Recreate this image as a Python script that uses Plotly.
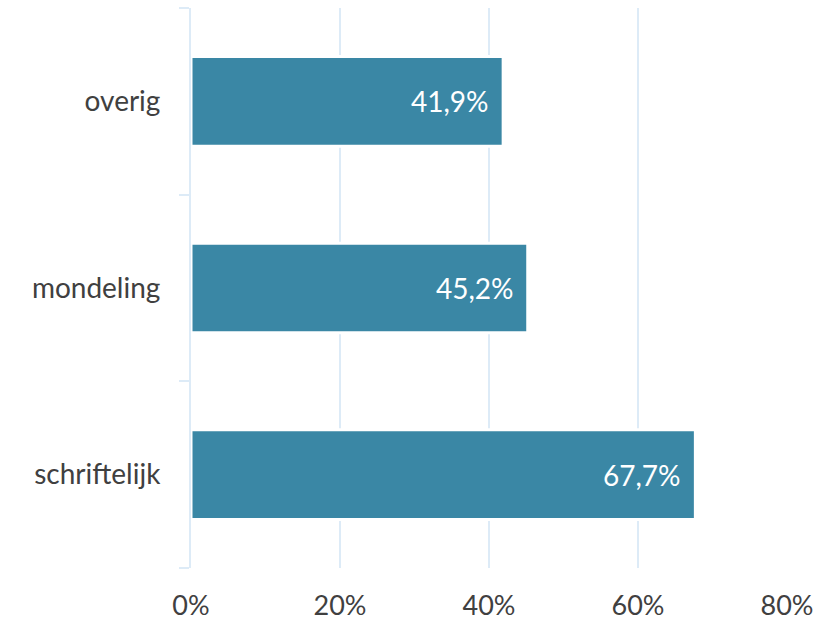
import plotly.graph_objects as go

categories = ["schriftelijk", "mondeling", "overig"]
values = [67.7, 45.2, 41.9]
tick_values = [0, 20, 40, 60, 80]
tick_labels = ["0%", "20%", "40%", "60%", "80%"]

bar_color = "#3A87A5"
grid_color = "#DDEBF7"
text_color = "#404040"
font_family = "Lato, 'Open Sans', sans-serif"

fig = go.Figure(
    go.Bar(
        x=values,
        y=categories,
        orientation="h",
        width=0.48,
        marker=dict(color=bar_color, line=dict(color="white", width=3)),
        hoverinfo="skip",
    )
)

# value labels inside the bar ends
for cat, v in zip(categories, values):
    fig.add_annotation(
        x=v, y=cat, xref="x", yref="y",
        text=f"{v:.1f}".replace(".", ",") + "%",
        showarrow=False, xanchor="right", xshift=-12,
        font=dict(family=font_family, size=28, color="white"),
    )

fig.update_layout(
    width=815, height=623,
    margin=dict(l=191, r=28, t=8, b=55),
    paper_bgcolor="white", plot_bgcolor="white",
    showlegend=False,
    font=dict(family=font_family, size=28, color=text_color),
)

fig.update_xaxes(
    range=[0, 80], tickvals=tick_values, ticktext=tick_labels,
    tickfont=dict(size=27),
    showgrid=True, gridcolor=grid_color, gridwidth=2,
    zeroline=False, showline=False, ticks="",
    ticklabelstandoff=19, automargin=False,
)

fig.update_yaxes(
    categoryorder="array", categoryarray=categories,
    range=[-0.5, 2.5],
    showgrid=False, zeroline=False,
    showline=True, linecolor=grid_color, linewidth=2,
    ticks="outside", tickson="boundaries", ticklen=10,
    tickcolor=grid_color, tickwidth=2,
    ticklabelstandoff=23, automargin=False,
)

fig.write_html("out.html")
